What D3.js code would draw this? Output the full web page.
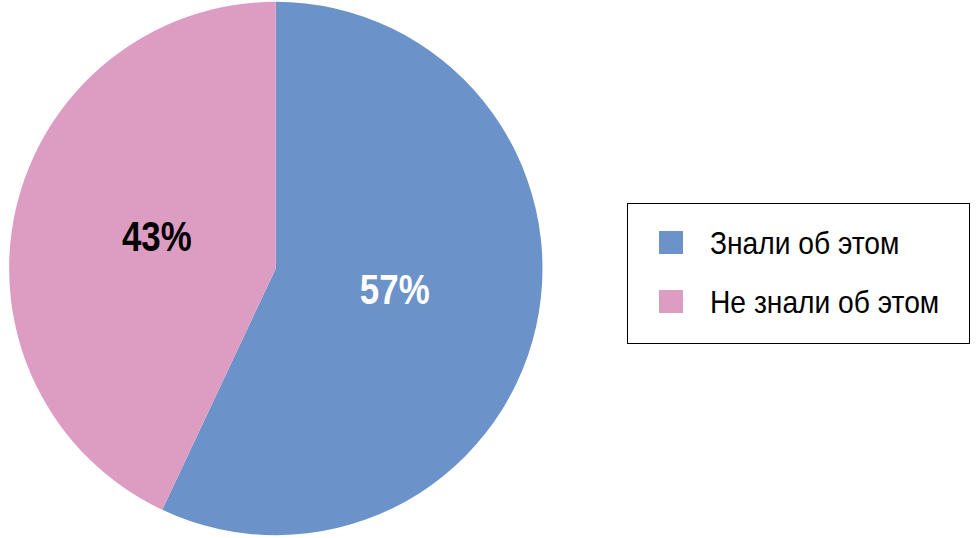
<!DOCTYPE html>
<html><head><meta charset="utf-8">
<script src="https://cdn.jsdelivr.net/npm/d3@7"></script>
<style>body{margin:0;background:#fff}svg{display:block}</style>
</head><body>
<svg id="c" width="979" height="538"></svg>
<script>
const categories = ["Знали об этом", "Не знали об этом"];
const values = [57, 43];
const labels = ["57%", "43%"];
const colors = ["#6b93c9", "#dd9dc3"];
const labelColors = ["#ffffff", "#000000"];

const svg = d3.select("#c");
const cx = 275.8, cy = 268.5, r = 266.7;
const font = "'Liberation Sans',Arial,sans-serif";
const pie = d3.pie().sort(null).value(d => d)(values);
const arc = d3.arc().innerRadius(0).outerRadius(r);
const g = svg.append("g").attr("transform", `translate(${cx},${cy})`);
g.selectAll("path").data(pie).join("path")
  .attr("d", arc).attr("fill", (d,i) => colors[i]);
const labelArc = d3.arc().innerRadius(r*0.457).outerRadius(r*0.457);
g.selectAll("text").data(pie).join("text")
  .attr("transform", (d,i) => {
    const [x,y] = labelArc.centroid(d);
    return `translate(${x},${y - 6.5}) scale(0.83,1)`;
  })
  .attr("text-anchor", "middle").attr("dy", "0.36em")
  .attr("font-family", font).attr("font-weight", "bold").attr("font-size", 42)
  .attr("fill", (d,i) => labelColors[i])
  .text((d,i) => labels[i]);

const lg = svg.append("g");
lg.append("rect").attr("x", 627.5).attr("y", 203.5).attr("width", 342).attr("height", 140)
  .attr("fill", "#fff").attr("stroke", "#000").attr("stroke-width", 1);
const ly = d3.scalePoint().domain(categories).range([242.5, 301.5]);
categories.forEach((c, i) => {
  lg.append("rect").attr("x", 659).attr("y", ly(c) - 11.5).attr("width", 24).attr("height", 23)
    .attr("fill", colors[i]);
  lg.append("text").attr("transform", `translate(710,${ly(c) + 11.5}) scale(0.91,1)`)
    .attr("font-family", font).attr("font-size", 31).attr("fill", "#000").text(c);
});
</script>
</body></html>
